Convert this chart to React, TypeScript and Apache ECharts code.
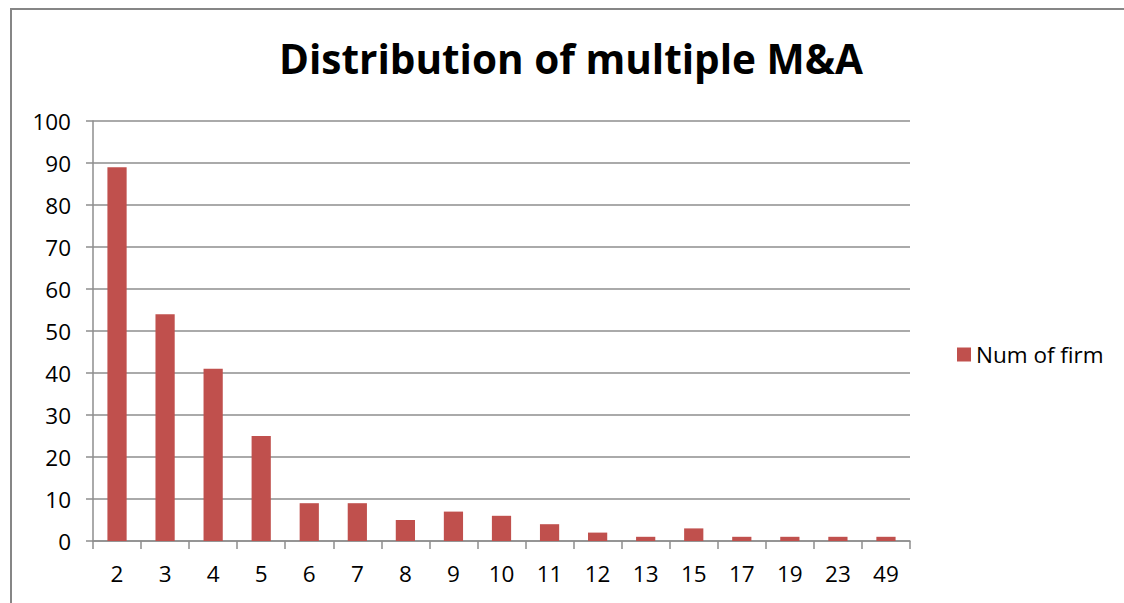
import React, { useEffect, useRef } from "react";
import * as echarts from "echarts";

const categories = ["2", "3", "4", "5", "6", "7", "8", "9", "10", "11", "12", "13", "15", "17", "19", "23", "49"];
const numOfFirm = [89, 54, 41, 25, 9, 9, 5, 7, 6, 4, 2, 1, 3, 1, 1, 1, 1];
const yTicks = { min: 0, max: 100, interval: 10 };
const titleText = "Distribution of multiple M&A";
const seriesName = "Num of firm";

const FONT = "'Open Sans', 'Noto Sans', sans-serif";
const GRID_COLOR = "#8e8e8e";

export default function App() {
  const ref = useRef<HTMLDivElement>(null);
  useEffect(() => {
    if (!ref.current) return;
    const chart = echarts.init(ref.current, null, { renderer: "svg" });
    chart.setOption({
      animation: false,
      backgroundColor: "#ffffff",
      title: {
        text: titleText,
        left: 566,
        textAlign: "center",
        top: 33,
        textStyle: { fontFamily: FONT, fontSize: 40.5, fontWeight: "bold", color: "#000000" },
      },
      legend: {
        show: true,
        left: 952,
        top: 338,
        itemWidth: 14,
        itemHeight: 14,
        itemGap: 8,
        icon: "rect",
        textStyle: { fontFamily: FONT, fontSize: 22.5, color: "#000000" },
        data: [seriesName],
      },
      graphic: [
        {
          type: "rect",
          shape: { x: 11, y: 9, width: 1200, height: 700 },
          style: { fill: "none", stroke: "#868686", lineWidth: 2 },
          silent: true,
        },
      ],
      grid: { left: 93, right: 214, top: 121, bottom: 62, containLabel: false },
      xAxis: {
        type: "category",
        data: categories,
        boundaryGap: true,
        axisLine: { show: true, lineStyle: { color: GRID_COLOR, width: 1.5 } },
        axisTick: { show: true, length: 8, alignWithLabel: false, lineStyle: { color: GRID_COLOR, width: 1.5 } },
        axisLabel: { fontFamily: FONT, fontSize: 22.5, color: "#000000", margin: 21 },
        splitLine: { show: false },
      },
      yAxis: {
        type: "value",
        min: yTicks.min,
        max: yTicks.max,
        interval: yTicks.interval,
        axisLine: { show: true, lineStyle: { color: GRID_COLOR, width: 1.5 } },
        axisTick: { show: true, length: 7, inside: false, lineStyle: { color: GRID_COLOR, width: 1.5 } },
        axisLabel: { fontFamily: FONT, fontSize: 22.5, color: "#000000", margin: 22 },
        splitLine: { show: true, lineStyle: { color: GRID_COLOR, width: 1.5 } },
      },
      series: [
        {
          name: seriesName,
          type: "bar",
          data: numOfFirm,
          barWidth: "40%",
          itemStyle: { color: "#C0504D" },
        },
      ],
    });
    return () => chart.dispose();
  }, []);
  return (
    <div
      ref={ref}
      style={{ position: "absolute", left: 0, top: 0, width: 1124, height: 603 }}
    />
  );
}
